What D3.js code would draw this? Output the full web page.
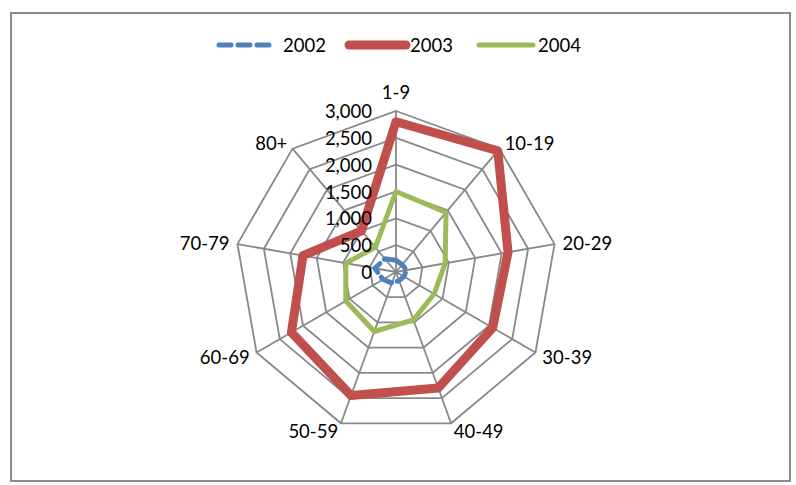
<!DOCTYPE html>
<html><head><meta charset="utf-8">
<script src="https://cdn.jsdelivr.net/npm/d3@7"></script>
<style>
html,body{margin:0;padding:0;background:#fff;}
text{font-family:Lato,"Open Sans",sans-serif;fill:#000;}
</style></head>
<body>
<svg id="chart" width="796" height="485"></svg>
<script>
const categories = ["1-9","10-19","20-29","30-39","40-49","50-59","60-69","70-79","80+"];
const seriesNames = ["2002","2003","2004"];
const values2002 = [220,180,200,170,170,220,280,400,320];
const values2003 = [2800,2950,2120,2080,2300,2450,2250,1760,1000];
const values2004 = [1500,1450,930,820,950,1180,1080,950,600];
const tickValues = [0,500,1000,1500,2000,2500,3000];
const colors = ["#4f81bd","#c0504d","#9bbb59"];

const svg = d3.select("#chart");
const cx = 396, cy = 272, R = 161;
const r = d3.scaleLinear().domain([0,3000]).range([0,R]);
const ang = d3.scalePoint().domain(categories).range([0, 2*Math.PI*(categories.length-1)/categories.length]);
const pt = (c, v) => [cx + r(v)*Math.sin(ang(c)), cy - r(v)*Math.cos(ang(c))];

// border
svg.append("rect").attr("x",11).attr("y",13).attr("width",779).attr("height",468)
  .attr("fill","none").attr("stroke","#8c8c8c").attr("stroke-width",2);

const g = svg.append("g");
// rings
tickValues.slice(1).forEach(t => {
  g.append("path")
    .attr("d", d3.line()(categories.map(c => pt(c,t))) + "Z")
    .attr("fill","none").attr("stroke","#888888").attr("stroke-width",1.8);
});
// spokes
categories.forEach(c => {
  const [x,y] = pt(c,3000);
  g.append("line").attr("x1",cx).attr("y1",cy).attr("x2",x).attr("y2",y)
    .attr("stroke","#888888").attr("stroke-width",1.8);
});

// series
const series = [values2002, values2003, values2004];
const widths = [5, 9, 5];
series.forEach((vals, i) => {
  const p = g.append("path")
    .attr("d", d3.line()(categories.map((c,j) => pt(c, vals[j]))) + "Z")
    .attr("fill","none").attr("stroke",colors[i]).attr("stroke-width",widths[i])
    .attr("stroke-linejoin","round");
  if (i === 0) p.attr("stroke-dasharray","12,6").attr("stroke-linecap","round");
});

// category labels
categories.forEach(c => {
  const a = ang(c);
  const s = Math.sin(a);
  let [x,y] = pt(c, r.invert(R+8));
  let anchor = Math.abs(s) < 0.1 ? "middle" : (s > 0 ? "start" : "end");
  if (Math.abs(s) < 0.1) y -= 11;
  svg.append("text").attr("x",x).attr("y",y).attr("text-anchor",anchor)
    .attr("dominant-baseline","central").attr("font-size",18.5).text(c);
});

// tick labels
const fmt = d3.format(",");
tickValues.forEach(t => {
  svg.append("text").attr("x", cx-24).attr("y", cy - r(t))
    .attr("text-anchor","end").attr("dominant-baseline","central")
    .attr("font-size",18.5).text(fmt(t));
});

// legend
const legend = [
  {x1:219, x2:272, tx:283},
  {x1:349, x2:406, tx:410},
  {x1:479, x2:533, tx:538}
];
legend.forEach((l,i) => {
  const ln = svg.append("line").attr("x1",l.x1).attr("x2",l.x2).attr("y1",45).attr("y2",45)
    .attr("stroke",colors[i]).attr("stroke-width",widths[i]).attr("stroke-linecap","round");
  if (i === 0) ln.attr("stroke-dasharray","12,7");
  svg.append("text").attr("x",l.tx).attr("y",45).attr("dominant-baseline","central")
    .attr("font-size",18.5).text(seriesNames[i]);
});
</script>
</body></html>
